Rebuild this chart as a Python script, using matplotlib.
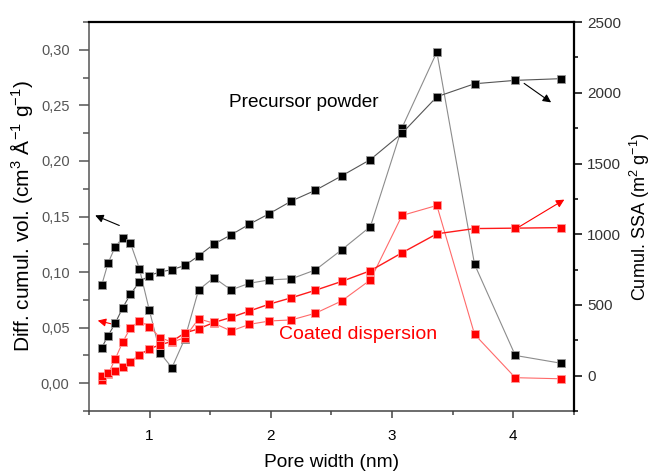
import matplotlib
matplotlib.use("Agg")
import matplotlib.pyplot as plt
from matplotlib.ticker import MultipleLocator, FuncFormatter

plt.rcParams['font.family'] = ['Liberation Sans', 'DejaVu Sans']
plt.rcParams['mathtext.default'] = 'regular'

# Pore width (nm)
pore_width = [0.604, 0.657, 0.717, 0.778, 0.842, 0.916, 0.997, 1.088, 1.184, 1.290,
              1.404, 1.530, 1.672, 1.823, 1.988, 2.170, 2.368, 2.583, 2.821, 3.082,
              3.369, 3.680, 4.016, 4.393]

# Precursor powder
prec_diff = [0.088, 0.108, 0.123, 0.131, 0.126, 0.103, 0.066, 0.027, 0.014, 0.040,
             0.084, 0.095, 0.084, 0.090, 0.093, 0.094, 0.102, 0.120, 0.141, 0.230,
             0.298, 0.107, 0.025, 0.018]
prec_ssa = [196, 282, 372, 480, 577, 662, 708, 734, 749, 779,
            847, 930, 996, 1071, 1146, 1235, 1311, 1412, 1528, 1714,
            1972, 2064, 2088, 2100]

# Coated dispersion
coat_diff = [0.003, 0.008, 0.022, 0.037, 0.050, 0.056, 0.051, 0.041, 0.037, 0.041,
             0.058, 0.054, 0.047, 0.053, 0.056, 0.057, 0.063, 0.074, 0.093, 0.151,
             0.160, 0.044, 0.005, 0.004]
coat_ssa = [0, 20, 33, 61, 99, 146, 189, 219, 242, 302,
            331, 376, 412, 457, 506, 551, 604, 666, 742, 869,
            1003, 1040, 1043, 1047]

fig = plt.figure(figsize=(6.51, 4.72), dpi=100)
ax = fig.add_axes([0.1367, 0.1292, 0.745, 0.824])
ax2 = ax.twinx()

mk = dict(marker='s', markersize=5.6, markeredgewidth=0.6)

# left axis: differential volume
ax.plot(pore_width, prec_diff, color='#8c8c8c', lw=0.8, markerfacecolor='k',
        markeredgecolor='#9a9a9a', **mk)
ax.plot(pore_width, coat_diff, color='#ff6a6a', lw=0.8, markerfacecolor='#ff0000',
        markeredgecolor='#ff9a9a', **mk)
# right axis: cumulative SSA
ax2.plot(pore_width, prec_ssa, color='#555555', lw=0.8, markerfacecolor='k',
         markeredgecolor='#9a9a9a', **mk)
ax2.plot(pore_width, coat_ssa, color='#ff1a1a', lw=1.0, markerfacecolor='#ff0000',
         markeredgecolor='#ff9a9a', **mk)

ax.set_xlim(0.5, 4.5)
ax.set_ylim(-0.025, 0.325)
ax2.set_ylim(-250, 2500)

# arrows pointing to the axes
arr_k = dict(arrowstyle='-|>', color='k', lw=0.8, mutation_scale=12)
arr_r = dict(arrowstyle='-|>', color='#ff0000', lw=0.8, mutation_scale=12)
ax.annotate('', xy=(0.53, 0.152), xytext=(0.771, 0.141), arrowprops=arr_k)
ax.annotate('', xy=(0.55, 0.057), xytext=(0.776, 0.051), arrowprops=arr_r)
ax2.annotate('', xy=(4.33, 1921), xytext=(4.07, 2078), arrowprops=arr_k)
ax2.annotate('', xy=(4.44, 1255), xytext=(4.03, 1043), arrowprops=arr_r)

ax.text(2.27, 0.253, 'Precursor powder', fontsize=13.7, ha='center', va='center', color='k')
ax.text(2.72, 0.044, 'Coated dispersion', fontsize=14, ha='center', va='center', color='#ff0000')

# ticks and spines
ax.xaxis.set_major_locator(MultipleLocator(1))
ax.xaxis.set_minor_locator(MultipleLocator(0.5))
ax.yaxis.set_major_locator(MultipleLocator(0.05))
ax.yaxis.set_minor_locator(MultipleLocator(0.025))
ax2.yaxis.set_major_locator(MultipleLocator(500))
ax2.yaxis.set_minor_locator(MultipleLocator(250))
ax.yaxis.set_major_formatter(FuncFormatter(lambda v, p: f'{v:.2f}'.replace('.', ',')))

ax.tick_params(axis='x', which='both', direction='out', top=False, labelsize=11,
               colors='#444444', labelcolor='k')
ax.tick_params(axis='x', which='major', length=5, width=1.1, pad=8)
ax.tick_params(axis='x', which='minor', length=3, width=1.1)
ax.tick_params(axis='y', which='both', direction='out', colors='#555555', labelsize=10.5)
ax.tick_params(axis='y', which='major', length=7, width=1.1, pad=7)
ax.tick_params(axis='y', which='minor', length=4, width=1.1)
ax2.tick_params(axis='y', which='both', direction='out', colors='k', labelcolor='#333333',
                labelsize=11)
ax2.tick_params(axis='y', which='major', length=6, width=1.1)
ax2.tick_params(axis='y', which='minor', length=3, width=1.1)

# inward ticks on the top edge
ax2.xaxis.set_major_locator(MultipleLocator(1))
ax2.xaxis.set_minor_locator(MultipleLocator(0.5))
ax2.tick_params(axis='x', which='both', direction='in', top=True, bottom=False,
                labeltop=False, labelbottom=False, width=1.1, colors='k')
ax2.tick_params(axis='x', which='major', length=5)
ax2.tick_params(axis='x', which='minor', length=3)

ax.spines['left'].set_color('#555555')
ax.spines['bottom'].set_color('#444444')
ax.spines['top'].set_visible(False)
ax.spines['right'].set_visible(False)
for s in ['left', 'bottom']:
    ax.spines[s].set_linewidth(1.1)
    ax2.spines[s].set_visible(False)
ax2.spines['top'].set_color('k')
ax2.spines['right'].set_color('k')
ax2.spines['top'].set_linewidth(1.6)
ax2.spines['right'].set_linewidth(1.6)

ax.set_xlabel('Pore width (nm)', fontsize=13.8, labelpad=8)
ax.set_ylabel('Diff. cumul. vol. (cm$^3$ Å$^{-1}$ g$^{-1}$)', fontsize=15, labelpad=4)
ax2.set_ylabel('Cumul. SSA (m$^2$ g$^{-1}$)', fontsize=13, labelpad=5)

fig.savefig('out.png', dpi=100)
